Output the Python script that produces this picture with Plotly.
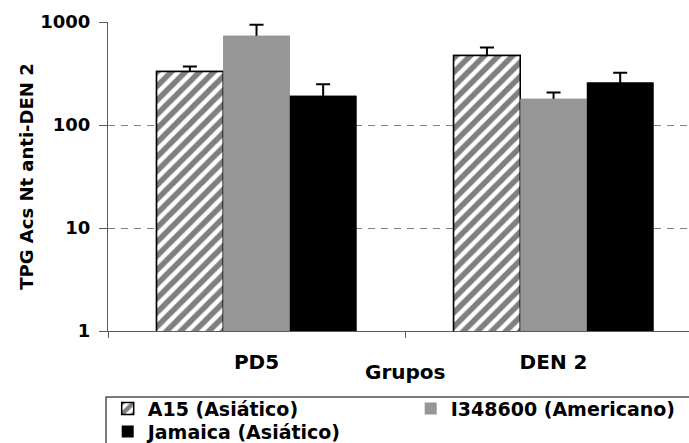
import plotly.graph_objects as go

# Groups on the x axis and the three virus strains
grupos = ["PD5", "DEN 2"]
series = ["A15 (Asiático)", "I348600 (Americano)", "Jamaica (Asiático)"]

# Geometric mean titres (TPG) and upper error per group
a15 = [331, 474]
a15_err = [39, 93]
i348600 = [736, 180]
i348600_err = [205, 27]
jamaica = [192, 258]
jamaica_err = [56, 64]

y_tickvals = [1, 10, 100, 1000]
y_ticktext = ["1", "10", "100", "1000"]

values = [a15, i348600, jamaica]
errors = [a15_err, i348600_err, jamaica_err]
legend_rows = ["legend", "legend", "legend2"]

FONT = dict(family="DejaVu Sans", color="black", weight="bold")
AXIS_COLOR = "#5a5a5a"

styles = [
    dict(color="white",
         pattern=dict(shape="/", fgcolor="black", bgcolor="white", size=10, solidity=0.55),
         line=dict(color="black", width=1.5)),
    dict(color="#969696", line=dict(width=0)),
    dict(color="#000000", line=dict(width=0)),
]

fig = go.Figure()

# Lower layer: bars carrying the error bars
for name, vals, errs, st in zip(series, values, errors, styles):
    fig.add_trace(go.Bar(
        x=grupos, y=vals, name=name, marker=st, showlegend=False,
        error_y=dict(type="data", array=errs, symmetric=True,
                     color="black", thickness=2, width=7),
        xaxis="x", yaxis="y",
    ))

# Upper layer: the same bars drawn over the lower half of each error bar
for name, vals, st, lg in zip(series, values, styles, legend_rows):
    fig.add_trace(go.Bar(
        x=grupos, y=vals, name=name, marker=st, showlegend=True, legend=lg,
        xaxis="x2", yaxis="y2",
    ))

x_common = dict(type="category", categoryorder="array", categoryarray=grupos,
                range=[-0.5, 1.456])
y_common = dict(type="log", range=[0, 3])

legend_common = dict(orientation="h", xref="paper", yref="paper",
                     x=-0.0005, xanchor="left", yanchor="top",
                     entrywidth=258, entrywidthmode="pixels",
                     font=dict(**FONT, size=19), bgcolor="rgba(0,0,0,0)",
                     borderwidth=0, traceorder="normal")

fig.update_layout(
    width=689, height=443, autosize=False,
    margin=dict(l=108, r=0, t=22, b=112, autoexpand=False),
    paper_bgcolor="white", plot_bgcolor="white",
    barmode="group", bargap=0.327, bargroupgap=0,
    font=FONT,
    xaxis=dict(**x_common, tickson="boundaries", ticks="outside", ticklen=6,
               tickcolor=AXIS_COLOR, showline=True, linecolor=AXIS_COLOR, linewidth=1,
               showgrid=False, zeroline=False, tickfont=dict(**FONT, size=20),
               ticklabelstandoff=13),
    yaxis=dict(**y_common, tickvals=y_tickvals, ticktext=y_ticktext,
               showgrid=True, gridcolor="#808080", gridwidth=1, griddash="7px,6px",
               ticks="outside", ticklen=8, tickcolor=AXIS_COLOR,
               showline=True, linecolor=AXIS_COLOR, linewidth=1, zeroline=False,
               tickfont=dict(**FONT, size=18), ticklabelstandoff=5,
               title=dict(text="TPG Acs Nt anti-DEN 2", font=dict(**FONT, size=18),
                          standoff=1)),
    xaxis2=dict(**x_common, overlaying="x", visible=False),
    yaxis2=dict(**y_common, overlaying="y", visible=False),
    legend=dict(**legend_common, y=-(389.6 - 331) / 309),
    legend2=dict(**legend_common, y=-(412.6 - 331) / 309),
    shapes=[dict(type="rect", xref="paper", yref="paper",
                 x0=-0.0034, x1=1.05, y0=-0.6, y1=-0.2136,
                 line=dict(color="#505050", width=1.5), fillcolor="rgba(0,0,0,0)")],
    annotations=[dict(text="Grupos", xref="paper", yref="paper",
                      x=(405 - 108) / 581, y=-(372 - 331) / 309,
                      xanchor="center", yanchor="middle", showarrow=False,
                      font=dict(**FONT, size=20))],
)

fig.write_html("out.html")
